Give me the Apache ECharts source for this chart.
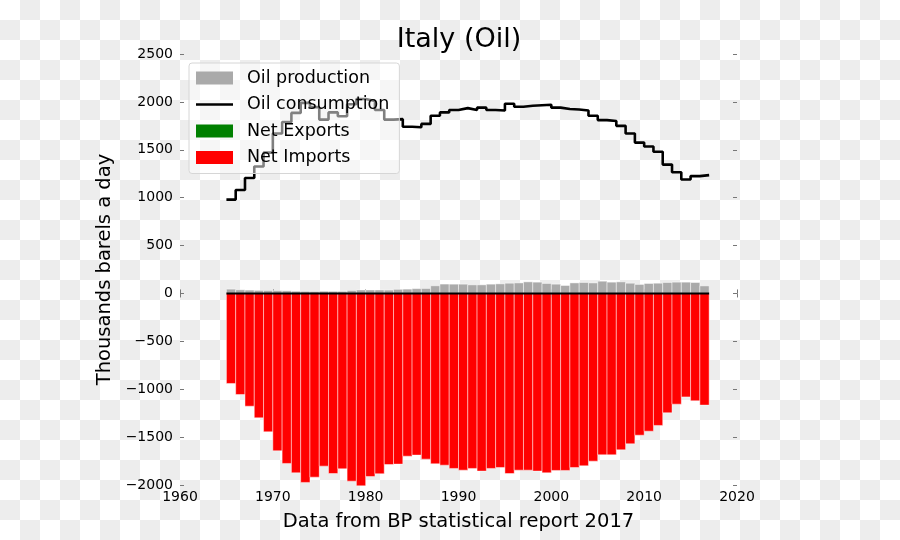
<!DOCTYPE html>
<html>
<head>
<meta charset="utf-8">
<script src="https://cdn.jsdelivr.net/npm/echarts@6/dist/echarts.min.js"></script>
<style>
  html, body { margin: 0; padding: 0; }
  #chart {
    width: 900px; height: 540px;
    background: repeating-conic-gradient(#ededed 0 25%, #ffffff 0 50%) 0 0 / 40px 40px;
  }
</style>
</head>
<body>
<div id="chart"></div>
<script>
const years = [1965,1966,1967,1968,1969,1970,1971,1972,1973,1974,1975,1976,1977,1978,1979,
  1980,1981,1982,1983,1984,1985,1986,1987,1988,1989,1990,1991,1992,1993,1994,1995,1996,
  1997,1998,1999,2000,2001,2002,2003,2004,2005,2006,2007,2008,2009,2010,2011,2012,2013,
  2014,2015,2016];
const production = [45,38,35,32,31,30,28,23,22,21,23,22,22,31,36,
  36,36,35,43,45,50,52,80,98,97,97,90,90,97,100,107,110,
  121,118,104,97,83,110,114,110,128,118,121,107,94,104,107,114,118,
  118,114,79];
const consumption = [980,1080,1205,1325,1470,1670,1790,1885,1990,1945,1815,1890,1850,1975,2030,
  2010,1915,1815,1820,1740,1735,1770,1855,1890,1915,1935,1915,1940,1915,1910,1980,1950,
  1960,1965,1970,1940,1925,1920,1910,1855,1810,1800,1750,1670,1575,1535,1480,1345,1265,
  1190,1225,1235];
const netImports = [-940,-1055,-1177,-1299,-1445,-1643,-1775,-1873,-1973,-1918,-1803,-1880,-1831,-1960,-2009,
  -1911,-1883,-1786,-1782,-1699,-1688,-1730,-1779,-1793,-1827,-1845,-1827,-1855,-1827,-1817,-1880,-1845,
  -1845,-1855,-1873,-1848,-1848,-1817,-1800,-1751,-1685,-1685,-1633,-1570,-1480,-1438,-1378,-1246,-1156,
  -1080,-1121,-1166];
const netExports = [];
const xTicks = {min: 1960, max: 2020, interval: 10};
const yTicks = {min: -2000, max: 2500, interval: 500};

const FONT = 'DejaVu Sans';
const barStroke = 'rgba(255,255,255,0.45)';

function barRenderer(color) {
  return function (params, api) {
    const x = api.value(0), v = api.value(1);
    const p0 = api.coord([x, 0]);
    const p1 = api.coord([x + 1, v]);
    return {
      type: 'rect',
      shape: { x: p0[0], y: Math.min(p0[1], p1[1]), width: p1[0] - p0[0], height: Math.abs(p1[1] - p0[1]) },
      style: { fill: color, stroke: barStroke, lineWidth: 1 }
    };
  };
}

const lastYearEnd = years[years.length - 1] + 1;
const consData = years.map((y, i) => [y, consumption[i]]);
consData.push([lastYearEnd, consumption[consumption.length - 1]]);

const tickStyle = { show: true, inside: true, length: 4, lineStyle: { color: '#777', width: 1 } };

const chart = echarts.init(document.getElementById('chart'), null, { renderer: 'canvas' });
chart.setOption({
  animation: false,
  backgroundColor: 'transparent',
  title: {
    text: 'Italy (Oil)', left: 454, textAlign: 'center', top: 21,
    textStyle: { fontFamily: FONT, fontSize: 27, fontWeight: 'normal', color: '#000' }
  },
  grid: { left: 180, right: 163, top: 54, bottom: 55, containLabel: false },
  legend: {
    orient: 'vertical', left: 189, top: 63,
    itemWidth: 37, itemHeight: 13, itemGap: 6.5,
    padding: [5, 10, 6, 7],
    backgroundColor: 'rgba(255,255,255,0.5)',
    borderColor: '#d6d6d6', borderWidth: 1, borderRadius: 3,
    selectedMode: false,
    textStyle: { fontFamily: FONT, fontSize: 17.5, color: '#000', padding: [0, 0, 0, 9], lineHeight: 20 },
    data: [
      { name: 'Oil production', icon: 'rect' },
      { name: 'Oil consumption', icon: 'path://M0,0H37V2.6H0Z' },
      { name: 'Net Exports', icon: 'rect' },
      { name: 'Net Imports', icon: 'rect' }
    ]
  },
  xAxis: [
    {
      type: 'value', min: xTicks.min, max: xTicks.max, interval: xTicks.interval,
      name: 'Data from BP statistical report 2017', nameLocation: 'middle', nameGap: 27,
      nameTextStyle: { fontFamily: FONT, fontSize: 19.5, color: '#000' },
      axisLine: { show: false }, axisTick: tickStyle, splitLine: { show: false },
      axisLabel: { fontFamily: FONT, fontSize: 14, color: '#000', margin: 5, formatter: v => String(v) }
    },
    {
      type: 'value', position: 'top', min: xTicks.min, max: xTicks.max, interval: xTicks.interval,
      axisLine: { show: false }, axisTick: tickStyle, splitLine: { show: false }, axisLabel: { show: false }
    }
  ],
  yAxis: [
    {
      type: 'value', min: yTicks.min, max: yTicks.max, interval: yTicks.interval,
      name: 'Thousands barels a day', nameLocation: 'middle', nameGap: 55,
      nameTextStyle: { fontFamily: FONT, fontSize: 19.5, color: '#000' },
      axisLine: { show: false }, axisTick: tickStyle, splitLine: { show: false },
      axisLabel: { fontFamily: FONT, fontSize: 14, color: '#000', margin: 7,
        formatter: v => String(v).replace('-', '\u2212') }
    },
    {
      type: 'value', position: 'right', min: yTicks.min, max: yTicks.max, interval: yTicks.interval,
      axisLine: { show: false }, axisTick: tickStyle, splitLine: { show: false }, axisLabel: { show: false }
    }
  ],
  series: [
    {
      name: 'Oil production', type: 'custom', z: 2,
      itemStyle: { color: '#aaaaaa' },
      renderItem: barRenderer('#aaaaaa'),
      encode: { x: 0, y: 1 },
      data: years.map((y, i) => [y, production[i]])
    },
    {
      name: 'Net Exports', type: 'custom', z: 2,
      itemStyle: { color: '#008000' },
      renderItem: barRenderer('#008000'),
      encode: { x: 0, y: 1 },
      data: netExports
    },
    {
      name: 'Net Imports', type: 'custom', z: 2,
      itemStyle: { color: '#ff0000' },
      renderItem: barRenderer('#ff0000'),
      encode: { x: 0, y: 1 },
      data: years.map((y, i) => [y, netImports[i]])
    },
    {
      name: 'zero', type: 'line', z: 3, symbol: 'none', silent: true,
      lineStyle: { color: '#000', width: 2 },
      data: [[years[0], 0], [lastYearEnd, 0]]
    },
    {
      name: 'Oil consumption', type: 'line', step: 'end', z: 3, symbol: 'none',
      itemStyle: { color: '#000' },
      lineStyle: { color: '#000', width: 2.6 },
      data: consData
    }
  ]
});
</script>
</body>
</html>
